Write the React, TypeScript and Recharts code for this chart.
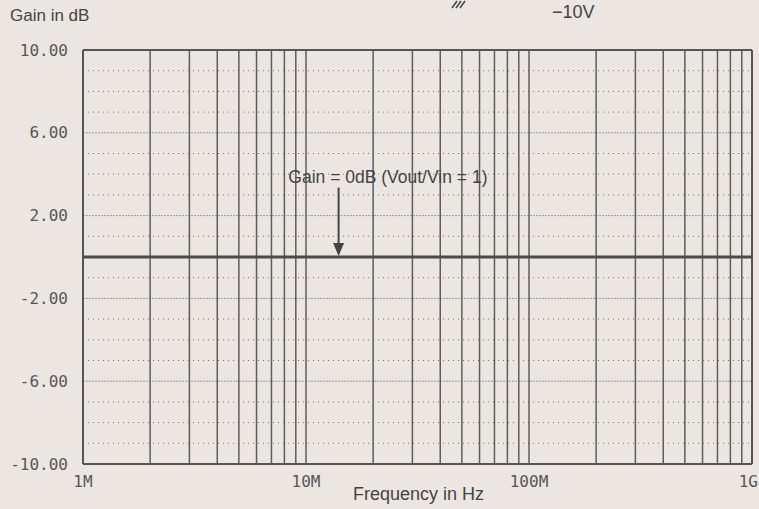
import { LineChart, Line, XAxis, YAxis, ReferenceLine, ReferenceDot } from "recharts";

const gainData = [
  { f: 1e6, g: 0 },
  { f: 1e9, g: 0 },
];
const xTicks = [1e6, 1e7, 1e8, 1e9];
const xTickLabels: Record<number, string> = { 1e6: "1M", 1e7: "10M", 1e8: "100M", 1e9: "1G" };
const yTicks = [10, 6, 2, -2, -6, -10];
const yMinorLines = [9, 8, 7, 5, 4, 3, 1, -1, -3, -4, -5, -7, -8, -9];
const yMajorLines = [6, 2, -2, -6];
const xGridLines = [
  2e6, 3e6, 4e6, 5e6, 6e6, 7e6, 8e6, 9e6, 1e7,
  2e7, 3e7, 4e7, 5e7, 6e7, 7e7, 8e7, 9e7, 1e8,
  2e8, 3e8, 4e8, 5e8, 6e8, 7e8, 8e8, 9e8,
];
const arrowFreq = 1.4e7;
const arrowTop = 3.35;
const arrowBase = 0.62;
const arrowTip = 0.05;
const noteFreq = 2.33e7;
const noteGain = 3.86;
const noteText = "Gain = 0dB (Vout/Vin = 1)";

const bg = "#ebe6e1";
const ink = "#555";
const labelInk = "#575757";
const mono = "'DejaVu Sans Mono', monospace";
const sans = "'Liberation Sans', Arial, sans-serif";

function XTick(props: any) {
  const { x, y, payload } = props;
  const last = payload.value === 1e9;
  return (
    <text
      x={last ? x + 6 : x}
      y={y}
      dy="0.71em"
      textAnchor={last ? "end" : "middle"}
      fill={labelInk}
      fontFamily={mono}
      fontSize={16}
    >
      {xTickLabels[payload.value] ?? ""}
    </text>
  );
}

export default function App() {
  return (
    <div style={{ position: "fixed", left: 0, top: 0, width: 759, height: 509, background: bg }}>
      <div style={{ position: "absolute", left: 10, top: 6, fontFamily: sans, fontSize: 17, color: "#444" }}>
        Gain in dB
      </div>
      <div style={{ position: "absolute", left: 552, top: 2, fontFamily: sans, fontSize: 18, color: "#444" }}>
        −10V
      </div>
      <svg style={{ position: "absolute", left: 450, top: 0 }} width={20} height={10}>
        {[0, 4, 8].map((d) => (
          <line key={d} x1={2 + d} y1={8} x2={7 + d} y2={1} stroke="#444" strokeWidth={1.5} />
        ))}
      </svg>
      <div
        style={{
          position: "absolute",
          left: 353,
          top: 484,
          fontFamily: sans,
          fontSize: 18,
          color: "#444",
          whiteSpace: "nowrap",
        }}
      >
        Frequency in Hz
      </div>
      <LineChart width={759} height={509} data={gainData} margin={{ top: 50, right: 7, bottom: 0, left: 0 }}>
        <XAxis
          type="number"
          dataKey="f"
          scale="log"
          domain={[1e6, 1e9]}
          ticks={xTicks}
          axisLine={false}
          tickLine={false}
          tickSize={0}
          tickMargin={12}
          height={45}
          interval={0}
          tick={<XTick />}
        />
        <YAxis
          type="number"
          domain={[-10, 10]}
          ticks={yTicks}
          tickFormatter={(v: number) => v.toFixed(2)}
          axisLine={false}
          tickLine={false}
          tickSize={0}
          tickMargin={15}
          width={83}
          interval={0}
          tick={{ fill: labelInk, fontFamily: mono, fontSize: 16 }}
        />
        {yMinorLines.map((v) => (
          <ReferenceLine key={`ym${v}`} y={v} stroke="#777" strokeDasharray="1 4" strokeWidth={1} />
        ))}
        {yMajorLines.map((v) => (
          <ReferenceLine key={`yM${v}`} y={v} stroke="#999" strokeDasharray="2 1" strokeWidth={1} />
        ))}
        {xGridLines.map((v) => (
          <ReferenceLine key={`x${v}`} x={v} stroke="#5e5e5e" strokeWidth={1.5} />
        ))}
        <ReferenceLine x={1e6} stroke={ink} strokeWidth={2} />
        <ReferenceLine x={1e9} stroke={ink} strokeWidth={2} />
        <ReferenceLine y={10} stroke={ink} strokeWidth={2} />
        <ReferenceLine y={-10} stroke={ink} strokeWidth={2} />
        <Line
          dataKey="g"
          stroke="#4a4a4a"
          strokeWidth={3}
          dot={false}
          isAnimationActive={false}
        />
        <ReferenceLine
          segment={[
            { x: arrowFreq, y: arrowTop },
            { x: arrowFreq, y: arrowBase },
          ]}
          stroke="#444"
          strokeWidth={2}
        />
        <ReferenceDot
          x={arrowFreq}
          y={arrowTip}
          r={1}
          shape={(p: any) => (
            <path d={`M${p.cx - 5.5},${p.cy - 13} L${p.cx + 5.5},${p.cy - 13} L${p.cx},${p.cy} Z`} fill="#444" />
          )}
        />
        <ReferenceDot
          x={noteFreq}
          y={noteGain}
          r={1}
          shape={(p: any) => (
            <text
              x={p.cx}
              y={p.cy}
              textAnchor="middle"
              dominantBaseline="central"
              fontFamily={sans}
              fontSize={17.5}
              fill="#444"
            >
              {noteText}
            </text>
          )}
        />
      </LineChart>
    </div>
  );
}
